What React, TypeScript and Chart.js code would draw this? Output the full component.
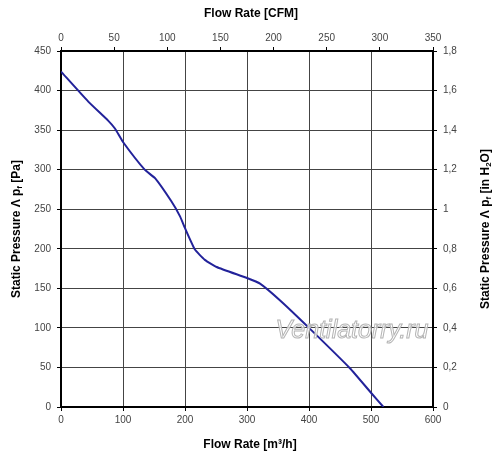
import { useEffect, useRef } from 'react';
import { Chart, registerables } from 'chart.js';

Chart.register(...registerables);

// Fan curve: static pressure vs. flow rate.
const flowM3h = [0, 44, 76, 87, 100, 135, 152, 178, 192, 200, 216, 232, 251, 300, 321, 353, 400, 466, 500, 520];
const pressurePa = [424, 386, 362, 352, 335, 300, 289, 260, 241, 226, 199, 186, 177, 163, 156, 135, 100, 49, 18, 0];

const FONT = '"Liberation Sans", Arial, sans-serif';

type Part = { text: string; sub?: boolean };

function drawRich(ctx: CanvasRenderingContext2D, parts: Part[], x: number, y: number, rot: number) {
  const big = `bold 12px ${FONT}`;
  const small = `bold 8px ${FONT}`;
  let total = 0;
  for (const p of parts) {
    ctx.font = p.sub ? small : big;
    total += ctx.measureText(p.text).width;
  }
  ctx.save();
  ctx.translate(x, y);
  ctx.rotate(rot);
  ctx.fillStyle = '#000';
  ctx.textBaseline = 'middle';
  ctx.textAlign = 'left';
  let cx = -total / 2;
  for (const p of parts) {
    ctx.font = p.sub ? small : big;
    ctx.fillText(p.text, cx, p.sub ? 3 : 0);
    cx += ctx.measureText(p.text).width;
  }
  ctx.restore();
}

const titlesPlugin = {
  id: 'titles',
  afterDraw(chart: Chart) {
    const ctx = chart.ctx;
    // watermark
    ctx.save();
    ctx.font = `italic 25px ${FONT}`;
    ctx.textAlign = 'center';
    ctx.textBaseline = 'middle';
    ctx.lineWidth = 1;
    ctx.fillStyle = 'rgba(255,255,255,0.75)';
    ctx.strokeStyle = '#b4b4b4';
    ctx.fillText('Ventilatorry.ru', 352, 331);
    ctx.strokeText('Ventilatorry.ru', 352, 331);
    ctx.restore();

    drawRich(ctx, [{ text: 'Flow Rate [CFM]' }], 251, 14, 0);
    drawRich(ctx, [{ text: 'Flow Rate [m³/h]' }], 250, 445, 0);
    drawRich(
      ctx,
      [{ text: 'Static Pressure Λ p' }, { text: 'f', sub: true }, { text: ' [Pa]' }],
      17,
      229,
      -Math.PI / 2
    );
    drawRich(
      ctx,
      [
        { text: 'Static Pressure Λ p' },
        { text: 'f', sub: true },
        { text: ' [in H' },
        { text: '2', sub: true },
        { text: 'O]' },
      ],
      486,
      229,
      -Math.PI / 2
    );
  },
};

export default function App() {
  const canvasRef = useRef<HTMLCanvasElement>(null);

  useEffect(() => {
    if (!canvasRef.current) return;
    const tickFont = { family: FONT, size: 10 };
    const tickColor = '#444';

    const chart = new Chart(canvasRef.current, {
      type: 'line',
      data: {
        datasets: [
          {
            data: flowM3h.map((x, i) => ({ x, y: pressurePa[i] })),
            borderColor: '#22229a',
            borderWidth: 2,
            pointRadius: 0,
            tension: 0.15,
            xAxisID: 'x',
            yAxisID: 'y',
          },
        ],
      },
      options: {
        animation: false,
        responsive: true,
        maintainAspectRatio: false,
        layout: { padding: 0 },
        plugins: { legend: { display: false }, tooltip: { enabled: false } },
        scales: {
          x: {
            type: 'linear',
            position: 'bottom',
            min: 0,
            max: 600,
            afterFit: (s: any) => { s.height = 56; },
            ticks: { stepSize: 100, font: tickFont, color: tickColor, padding: 3, maxRotation: 0 },
            grid: { color: '#444', lineWidth: 1, tickLength: 4, tickColor: '#000' },
            border: { color: '#000', width: 2 },
          },
          x2: {
            type: 'linear',
            position: 'top',
            min: 0,
            max: 350,
            afterFit: (s: any) => { s.height = 51; },
            ticks: { stepSize: 50, font: tickFont, color: tickColor, padding: 3, maxRotation: 0 },
            grid: { drawOnChartArea: false, tickLength: 4, tickColor: '#000' },
            border: { color: '#000', width: 2 },
          },
          y: {
            type: 'linear',
            position: 'left',
            min: 0,
            max: 450,
            afterFit: (s: any) => { s.width = 61; },
            ticks: { stepSize: 50, font: tickFont, color: tickColor, padding: 6 },
            grid: { color: '#444', lineWidth: 1, tickLength: 4, tickColor: '#000' },
            border: { color: '#000', width: 2 },
          },
          y2: {
            type: 'linear',
            position: 'right',
            min: 0,
            max: 1.8,
            afterFit: (s: any) => { s.width = 67; },
            ticks: {
              stepSize: 0.2,
              font: tickFont,
              color: tickColor,
              padding: 6,
              callback: (v: any) => String(Math.round(Number(v) * 10) / 10).replace('.', ','),
            },
            grid: { drawOnChartArea: false, tickLength: 4, tickColor: '#000' },
            border: { color: '#000', width: 2 },
          },
        },
      },
      plugins: [titlesPlugin],
    });

    return () => {
      chart.destroy();
    };
  }, []);

  return (
    <div style={{ position: 'fixed', left: 0, top: 0, width: 500, height: 463, background: '#fff' }}>
      <canvas ref={canvasRef} role="img" aria-label="Static pressure versus flow rate fan curve" />
    </div>
  );
}
